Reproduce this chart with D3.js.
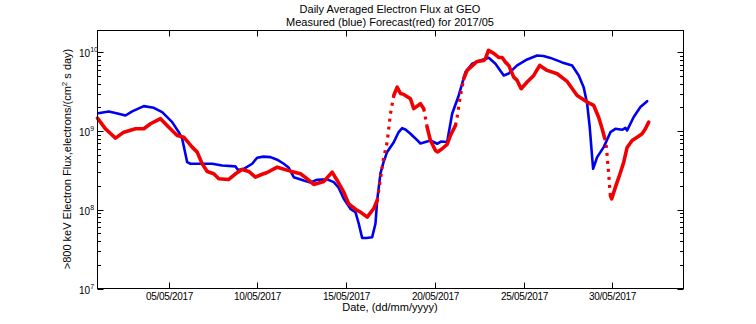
<!DOCTYPE html>
<html>
<head>
<meta charset="utf-8">
<script src="https://cdn.jsdelivr.net/npm/d3@7"></script>
<style>
  html, body { margin: 0; padding: 0; background: #fff; }
  svg { display: block; }
  text { font-family: "Liberation Sans", Arial, Helvetica, sans-serif; fill: #000; }
</style>
</head>
<body>
<div id="chart"></div>
<script>
// ---- data (day offset from 2017-05-01 00:00 UTC, flux electrons/(cm^2 s day)) ----
const titleLines = ["Daily Averaged Electron Flux at GEO", "Measured (blue) Forecast(red) for 2017/05"];
const xTickLabels = ["05/05/2017", "10/05/2017", "15/05/2017", "20/05/2017", "25/05/2017", "30/05/2017"];
const yTickExponents = [7, 8, 9, 10];

const measuredDays = [0.04,0.636,1.126,1.577,1.954,2.607,3.170,3.643,4.206,4.578,4.769,5.051,5.236,5.704,6.458,7.021,7.770,7.911,8.238,8.711,8.992,9.347,9.741,10.118,10.490,10.755,11.053,11.616,11.993,12.371,12.934,13.305,13.570,13.868,14.245,14.527,14.713,14.904,15.146,15.467,15.653,15.749,15.935,16.104,16.312,16.684,16.948,17.157,17.342,17.624,17.905,18.187,18.468,18.750,19.127,19.369,19.690,19.972,20.343,20.721,21.098,21.565,22.033,22.410,22.877,23.159,23.632,24.195,24.758,25.113,25.507,26.166,26.729,27.100,27.382,27.573,27.720,27.855,27.911,28.136,28.508,28.885,29.167,29.544,29.730,29.825,30.197,30.574,30.952];
const measuredFlux = [1.69e9,1.78e9,1.68e9,1.58e9,1.78e9,2.08e9,1.98e9,1.74e9,1.30e9,9.70e8,8.0e8,4.03e8,3.85e8,3.85e8,3.85e8,3.66e8,3.56e8,3.21e8,3.32e8,3.85e8,4.59e8,4.74e8,4.67e8,4.33e8,3.85e8,3.45e8,2.60e8,2.36e8,2.23e8,2.41e8,2.44e8,2.25e8,1.92e8,1.38e8,1.03e8,9.33e7,6.65e7,4.39e7,4.39e7,4.49e7,6.65e7,1.31e8,2.90e8,4.00e8,5.44e8,7.24e8,9.62e8,1.09e9,1.05e9,9.26e8,8.07e8,6.97e8,7.29e8,7.61e8,6.91e8,7.39e8,7.29e8,1.66e9,2.84e9,5.62e9,7.19e9,7.92e9,8.57e9,7.19e9,5.10e9,5.41e9,6.84e9,8.15e9,9.16e9,9.03e9,8.52e9,7.47e9,6.84e9,5.10e9,3.59e9,2.23e9,1.12e9,4.67e8,3.32e8,4.67e8,6.26e8,9.70e8,1.07e9,1.04e9,1.10e9,1.02e9,1.51e9,2.02e9,2.40e9];

const forecastDays = [0,0.450,0.732,1.014,1.481,2.140,2.607,2.984,3.547,4.015,4.488,4.859,5.332,5.614,5.895,6.177,6.548,6.830,7.393,7.770,8.147,8.519,8.896,9.234,9.555,10.118,10.867,11.430,11.807,12.179,12.742,13.215,13.497,13.868,14.150,14.623,14.809,15.186,15.557,15.749,15.878,16.030,16.120,16.312,16.498,16.684,16.875,17.061,17.247,17.624,17.810,18.187,18.372,18.564,18.750,19.032,19.144,19.409,19.690,19.876,19.989,20.158,20.253,20.439,20.625,20.816,21.380,21.751,21.847,22.016,22.314,22.596,22.787,22.973,23.159,23.440,23.632,23.857,24.195,24.567,24.904,25.321,25.884,26.447,27.010,27.573,27.945,28.226,28.418,28.547,28.660,28.700,28.733,28.790,28.829,28.885,28.958,29.167,29.448,29.634,29.825,30.107,30.389,30.670,30.856,31.042];
const forecastFlux = [1.46e9,1.07e9,9.34e8,8.14e8,9.70e8,1.07e9,1.07e9,1.24e9,1.44e9,1.12e9,8.81e8,8.38e8,6.26e8,5.41e8,3.85e8,3.07e8,2.87e8,2.48e8,2.43e8,2.87e8,3.26e8,3.07e8,2.60e8,2.81e8,2.98e8,3.48e8,3.10e8,2.87e8,2.48e8,2.10e8,2.29e8,3.01e8,2.36e8,1.68e8,1.19e8,9.81e7,9.33e7,8.06e7,1.04e8,1.31e8,2.04e8,3.45e8,4.63e8,7.24e8,1.66e9,2.84e9,3.62e9,3.01e9,2.93e9,2.58e9,1.93e9,2.23e9,1.93e9,1.12e9,7.61e8,5.68e8,5.44e8,5.97e8,6.77e8,8.81e8,9.91e8,1.18e9,1.51e9,2.84e9,4.63e9,5.91e9,7.69e9,7.92e9,8.32e9,1.06e10,9.72e9,8.64e9,8.64e9,7.53e9,6.84e9,4.86e9,4.41e9,3.46e9,4.20e9,5.10e9,6.84e9,5.91e9,5.36e9,4.28e9,2.84e9,2.34e9,2.12e9,1.49e9,1.07e9,8.38e8,6.26e8,4.91e8,3.85e8,2.87e8,2.10e8,1.52e8,1.38e8,1.94e8,2.98e8,4.03e8,6.20e8,7.61e8,8.38e8,9.26e8,1.07e9,1.30e9];

// ---- layout ----
const W = 756, H = 324;
const plot = { left: 97.5, right: 683.5, top: 30.5, bottom: 288.5 };
const t0 = Date.UTC(2017, 4, 1);
const DAY = 86400000;
const toDate = d => new Date(t0 + d * DAY);

const x = d3.scaleUtc().domain([toDate(0), toDate(33)]).range([plot.left, plot.right]);
const y = d3.scaleLog().domain([1e7, 1.9e10]).range([plot.bottom, plot.top]);

const svg = d3.select("#chart").append("svg").attr("width", W).attr("height", H);

// title
svg.append("text").attr("x", 390).attr("y", 13).attr("text-anchor", "middle")
  .style("font-size", "11px").text(titleLines[0]);
svg.append("text").attr("x", 390).attr("y", 26).attr("text-anchor", "middle")
  .style("font-size", "11px").text(titleLines[1]);

// data lines
const blue = measuredDays.map((d, i) => [x(toDate(d)), y(measuredFlux[i])]);
const red = forecastDays.map((d, i) => [x(toDate(d)), y(forecastFlux[i])]);
const line = d3.line();

svg.append("path").attr("d", line(blue)).attr("fill", "none")
  .attr("stroke", "#0000f0").attr("stroke-width", 2.6)
  .attr("stroke-linejoin", "round").attr("stroke-linecap", "round");

// forecast: drawn as dense markers -> solid where points are close, dotted where steep jumps
const groups = [];
for (let i = 0; i < red.length - 1; i++) {
  const a = red[i], b = red[i + 1];
  const steep = Math.abs(b[1] - a[1]) / Math.max(0.01, Math.abs(b[0] - a[0])) > 4.4;
  const g = groups[groups.length - 1];
  if (g && g.steep === steep) g.pts.push(b);
  else groups.push({ steep, pts: [a, b] });
}
groups.forEach(g => {
  const p = svg.append("path").attr("d", line(g.pts)).attr("fill", "none")
    .attr("stroke", "#f00000");
  if (g.steep) {
    p.attr("stroke-width", 3.2).attr("stroke-dasharray", "3 5").attr("stroke-linecap", "butt");
  } else {
    p.attr("stroke-width", 3.6).attr("stroke-linejoin", "round").attr("stroke-linecap", "round");
  }
});

// frame
svg.append("rect").attr("x", plot.left).attr("y", plot.top)
  .attr("width", plot.right - plot.left).attr("height", plot.bottom - plot.top)
  .attr("fill", "none").attr("stroke", "#000").attr("stroke-width", 1);

// x ticks
const xTickDates = xTickLabels.map(s => {
  const [dd, mm, yy] = s.split("/").map(Number);
  return new Date(Date.UTC(yy, mm - 1, dd));
});
const xt = svg.append("g");
xTickDates.forEach((d, i) => {
  const px = Math.round(x(d)) + 0.5;
  xt.append("line").attr("x1", px).attr("x2", px).attr("y1", plot.bottom).attr("y2", plot.bottom - 6).attr("stroke", "#000");
  xt.append("line").attr("x1", px).attr("x2", px).attr("y1", plot.top).attr("y2", plot.top + 6).attr("stroke", "#000");
  xt.append("text").attr("x", px).attr("y", 299.5).attr("text-anchor", "middle")
    .style("font-size", "10px").style("letter-spacing", "-0.3px").text(xTickLabels[i]);
});

// y ticks (log)
const yt = svg.append("g");
yTickExponents.forEach(e => {
  const base = Math.pow(10, e);
  const py = Math.round(y(base)) + 0.5;
  [[plot.left, 1], [plot.right, -1]].forEach(([x0, dir]) => {
    yt.append("line").attr("x1", x0).attr("x2", x0 + dir * 6).attr("y1", py).attr("y2", py).attr("stroke", "#000");
  });
  const t = yt.append("text").attr("x", 79).attr("y", py + 4).style("font-size", "10px");
  t.append("tspan").text("10");
  t.append("tspan").attr("dy", -5).style("font-size", "7px").text(String(e));
  for (let k = 2; k <= 9; k++) {
    const v = k * base;
    if (v > y.domain()[1]) break;
    const my = Math.round(y(v)) + 0.5;
    [[plot.left, 1], [plot.right, -1]].forEach(([x0, dir]) => {
      yt.append("line").attr("x1", x0).attr("x2", x0 + dir * 3.5).attr("y1", my).attr("y2", my).attr("stroke", "#000");
    });
  }
});

// axis labels
svg.append("text").attr("x", 390).attr("y", 311).attr("text-anchor", "middle")
  .style("font-size", "11px").text("Date, (dd/mm/yyyy)");

const yl = svg.append("text").attr("transform", "translate(71,159) rotate(-90)")
  .attr("text-anchor", "middle").style("font-size", "11px");
yl.append("tspan").text(">800 keV Electron Flux,electrons/(cm");
yl.append("tspan").attr("dy", -4).style("font-size", "8px").text("2");
yl.append("tspan").attr("dy", 4).text(" s day)");
</script>
</body>
</html>
